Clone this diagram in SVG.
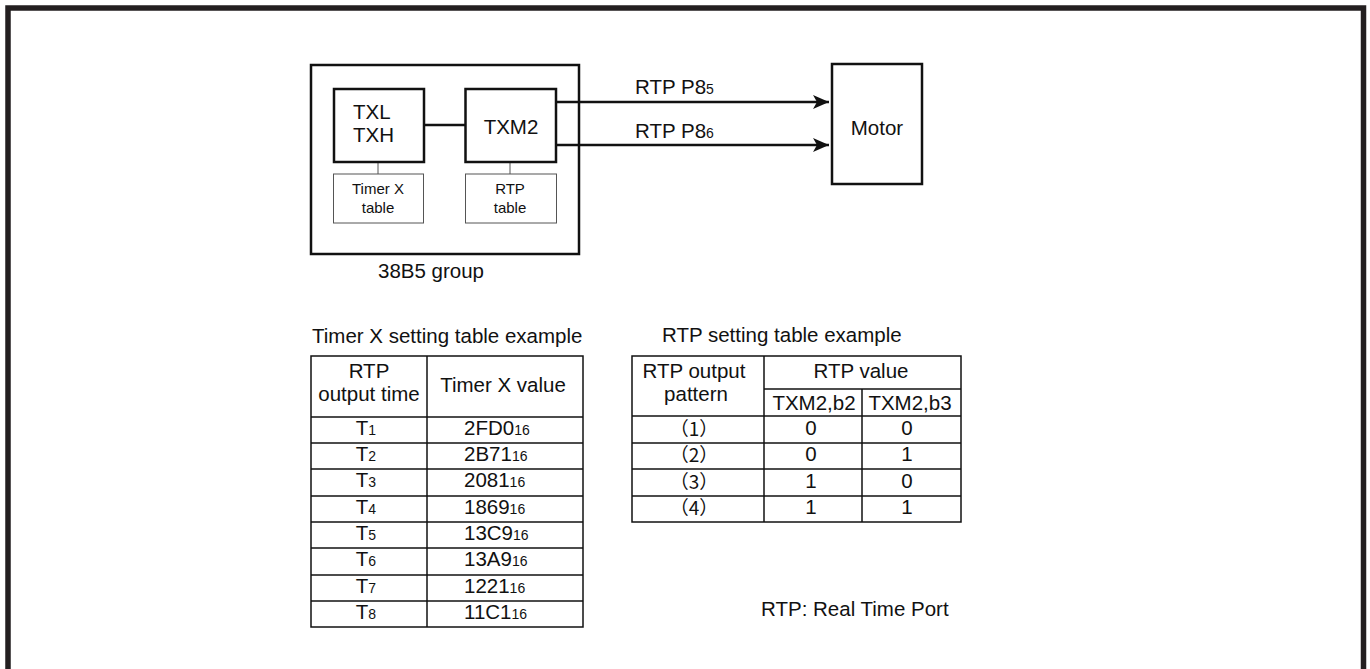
<svg xmlns="http://www.w3.org/2000/svg" width="1370" height="669" viewBox="0 0 1370 669">
<style>
text{font-family:"Liberation Sans",Arial,"Noto Sans CJK JP",sans-serif;font-size:20.5px;fill:#111}
.sub{font-size:14px}
.sm{font-size:15px}
.mid{text-anchor:middle}
.box{fill:#fff;stroke:#111;stroke-width:2.5}
.tbox{fill:#fff;stroke:#555;stroke-width:1}
.thin{stroke:#555;stroke-width:1}
.wire{stroke:#111;stroke-width:2.5;fill:none}
.grid{stroke:#111;stroke-width:1.5;fill:none}
.cjk{font-family:"Noto Sans CJK JP","Liberation Sans",sans-serif;font-size:19px}
</style>
<defs>
<marker id="ah" markerUnits="userSpaceOnUse" markerWidth="17" markerHeight="14" refX="16" refY="7" orient="auto">
<path d="M0,0 L16,7 L0,14 L4,7 z" fill="#111"/>
</marker>
</defs>
<rect x="8" y="8" width="1355.5" height="700" fill="none" stroke="#231f20" stroke-width="5.5"/>

<g id="group38B5">
<rect class="box" x="311" y="65" width="268" height="189"/>
<text x="378" y="278">38B5 group</text>
</g>

<g id="connectors">
<line class="wire" x1="424" y1="125" x2="465" y2="125"/>
<line class="thin" x1="378" y1="163" x2="378" y2="174"/>
<line class="thin" x1="510" y1="163" x2="510" y2="174"/>
<line class="wire" x1="556" y1="102" x2="829" y2="102" marker-end="url(#ah)"/>
<line class="wire" x1="556" y1="145" x2="829" y2="145" marker-end="url(#ah)"/>
<text x="635" y="94">RTP P8<tspan class="sub">5</tspan></text>
<text x="635" y="138">RTP P8<tspan class="sub">6</tspan></text>
</g>

<g id="txl">
<rect class="box" x="334" y="89" width="90" height="73"/>
<text x="353" y="119">TXL</text>
<text x="353" y="142">TXH</text>
</g>

<g id="txm2">
<rect class="box" x="465.5" y="89" width="90.5" height="73"/>
<text class="mid" x="511" y="134">TXM2</text>
</g>

<g id="timerxtable">
<rect class="tbox" x="333.5" y="174" width="90" height="49"/>
<text class="sm mid" x="378" y="194">Timer X</text>
<text class="sm mid" x="378" y="213">table</text>
</g>

<g id="rtptable">
<rect class="tbox" x="465.5" y="174" width="91" height="49"/>
<text class="sm mid" x="510" y="194">RTP</text>
<text class="sm mid" x="510" y="213">table</text>
</g>

<g id="motor">
<rect class="box" x="832" y="64" width="90" height="120"/>
<text class="mid" x="877" y="135">Motor</text>
</g>

<g id="timerx-setting-table">
<text x="312" y="343">Timer X setting table example</text>
<rect class="grid" x="311" y="356" width="272" height="271"/>
<line class="grid" x1="427" y1="356" x2="427" y2="627"/>
<line class="grid" x1="311" y1="417" x2="583" y2="417"/>
<line class="grid" x1="311" y1="443" x2="583" y2="443"/>
<line class="grid" x1="311" y1="469" x2="583" y2="469"/>
<line class="grid" x1="311" y1="496" x2="583" y2="496"/>
<line class="grid" x1="311" y1="522" x2="583" y2="522"/>
<line class="grid" x1="311" y1="548" x2="583" y2="548"/>
<line class="grid" x1="311" y1="575" x2="583" y2="575"/>
<line class="grid" x1="311" y1="601" x2="583" y2="601"/>
<text class="mid" x="369" y="378">RTP</text>
<text class="mid" x="369" y="401">output time</text>
<text class="mid" x="503" y="392">Timer X value</text>
<text class="mid" x="366" y="435">T<tspan class="sub">1</tspan></text>
<text class="mid" x="366" y="461">T<tspan class="sub">2</tspan></text>
<text class="mid" x="366" y="487">T<tspan class="sub">3</tspan></text>
<text class="mid" x="366" y="514">T<tspan class="sub">4</tspan></text>
<text class="mid" x="366" y="540">T<tspan class="sub">5</tspan></text>
<text class="mid" x="366" y="566">T<tspan class="sub">6</tspan></text>
<text class="mid" x="366" y="593">T<tspan class="sub">7</tspan></text>
<text class="mid" x="366" y="619">T<tspan class="sub">8</tspan></text>
<text x="464" y="435">2FD0<tspan class="sub">16</tspan></text>
<text x="464" y="461">2B71<tspan class="sub">16</tspan></text>
<text x="464" y="487">2081<tspan class="sub">16</tspan></text>
<text x="464" y="514">1869<tspan class="sub">16</tspan></text>
<text x="464" y="540">13C9<tspan class="sub">16</tspan></text>
<text x="464" y="566">13A9<tspan class="sub">16</tspan></text>
<text x="464" y="593">1221<tspan class="sub">16</tspan></text>
<text x="464" y="619">11C1<tspan class="sub">16</tspan></text>
</g>

<g id="rtp-setting-table">
<text x="662" y="342">RTP setting table example</text>
<rect class="grid" x="632" y="356" width="329" height="166"/>
<line class="grid" x1="764" y1="356" x2="764" y2="522"/>
<line class="grid" x1="862" y1="389" x2="862" y2="522"/>
<line class="grid" x1="764" y1="389" x2="961" y2="389"/>
<line class="grid" x1="632" y1="416" x2="961" y2="416"/>
<line class="grid" x1="632" y1="443" x2="961" y2="443"/>
<line class="grid" x1="632" y1="469" x2="961" y2="469"/>
<line class="grid" x1="632" y1="496" x2="961" y2="496"/>
<text class="mid" x="694" y="378">RTP output</text>
<text class="mid" x="696" y="401">pattern</text>
<text class="mid" x="861" y="378">RTP value</text>
<text class="mid" x="814" y="410">TXM2,b2</text>
<text class="mid" x="910" y="410">TXM2,b3</text>
<text class="cjk mid" x="694" y="436">（1）</text>
<text class="cjk mid" x="694" y="462">（2）</text>
<text class="cjk mid" x="694" y="489">（3）</text>
<text class="cjk mid" x="694" y="515">（4）</text>
<text class="mid" x="811" y="435">0</text>
<text class="mid" x="811" y="461">0</text>
<text class="mid" x="811" y="488">1</text>
<text class="mid" x="811" y="514">1</text>
<text class="mid" x="907" y="435">0</text>
<text class="mid" x="907" y="461">1</text>
<text class="mid" x="907" y="488">0</text>
<text class="mid" x="907" y="514">1</text>
</g>

<text x="761" y="616">RTP: Real Time Port</text>
</svg>
